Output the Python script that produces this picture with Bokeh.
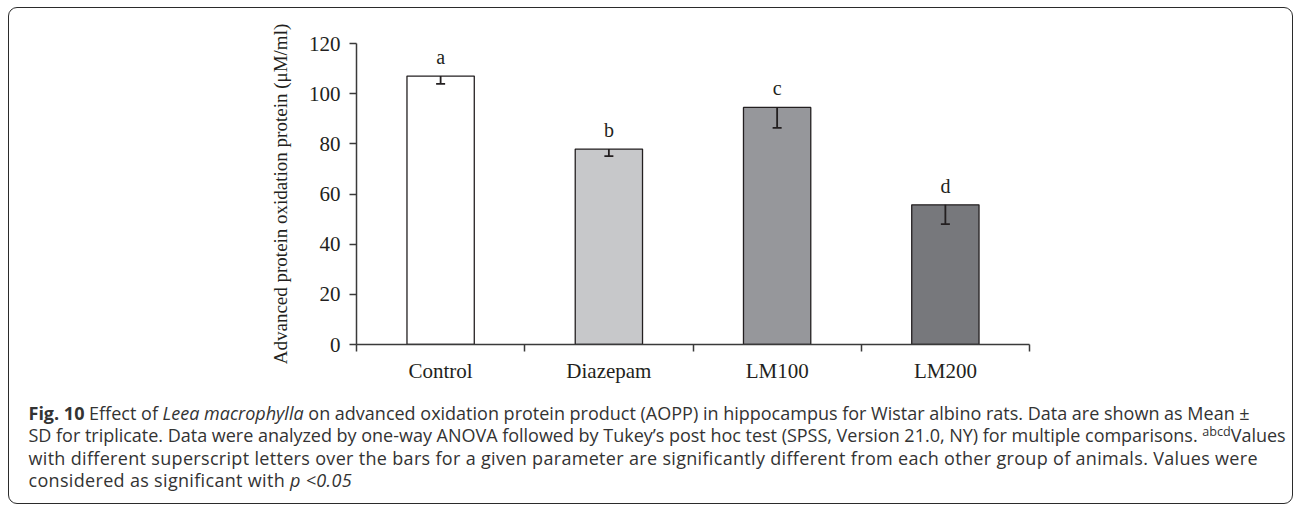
from bokeh.plotting import figure
from bokeh.models import (Range1d, FixedTicker, LinearAxis, Whisker, TeeHead,
                          ColumnDataSource, Div)
from bokeh.layouts import column
from bokeh.embed import file_html
from bokeh.resources import INLINE
from bokeh.core.properties import value

categories = ["Control", "Diazepam", "LM100", "LM200"]
means = [107.0, 77.9, 94.5, 55.7]
sds = [3.1, 2.8, 8.1, 7.7]
letters = ["a", "b", "c", "d"]
bar_colors = ["#ffffff", "#c7c8ca", "#96979b", "#77787c"]
y_ticks = [0, 20, 40, 60, 80, 100, 120]
y_label = "Advanced protein oxidation protein (\u03bcM/ml)"

INK = "#231f20"
SERIF = "Liberation Serif"

xs = [i + 0.5 for i in range(len(categories))]
lower = [m - s for m, s in zip(means, sds)]
src = ColumnDataSource(dict(x=xs, top=means, lower=lower, letter=letters, color=bar_colors))

p = figure(width=1282, height=386,
           x_range=Range1d(0, len(categories)), y_range=Range1d(0, y_ticks[-1]),
           output_backend="svg", toolbar_location=None,
           x_axis_location=None, y_axis_location=None,
           min_border_left=347, min_border_right=262, min_border_top=35, min_border_bottom=50)
p.outline_line_color = None
p.background_fill_color = "white"
p.border_fill_color = None
for g in p.grid:
    g.visible = False

yaxis = LinearAxis(ticker=FixedTicker(ticks=y_ticks, minor_ticks=[]),
                   axis_label=y_label,
                   axis_label_text_font=SERIF, axis_label_text_font_size="19px",
                   axis_label_text_font_style="normal", axis_label_text_color=INK,
                   axis_label_standoff=15,
                   major_label_text_font=SERIF, major_label_text_font_size="21px",
                   major_label_text_color=INK, major_label_standoff=9,
                   major_tick_out=7, major_tick_in=0, minor_tick_out=0, minor_tick_in=0,
                   axis_line_color="#3a3a3a", axis_line_width=1.5,
                   major_tick_line_color="#3a3a3a", major_tick_line_width=1.5)
p.add_layout(yaxis, "left")

xaxis = LinearAxis(ticker=FixedTicker(ticks=xs, minor_ticks=list(range(len(categories) + 1))),
                   major_label_overrides={x: c for x, c in zip(xs, categories)},
                   major_label_text_font=SERIF, major_label_text_font_size="21px",
                   major_label_text_color=INK, major_label_standoff=7,
                   major_tick_out=0, major_tick_in=0, minor_tick_out=7, minor_tick_in=0,
                   axis_line_color="#3a3a3a", axis_line_width=1.5,
                   minor_tick_line_color="#3a3a3a", minor_tick_line_width=1.5)
p.add_layout(xaxis, "below")

p.vbar(x="x", top="top", bottom=0, width=0.4, source=src,
       fill_color="color", line_color=INK, line_width=1.3)

p.add_layout(Whisker(source=src, base="x", upper="top", lower="lower", dimension="height",
                     line_color=INK, line_width=1.8, upper_head=None,
                     lower_head=TeeHead(size=9, line_color=INK, line_width=1.8),
                     level="annotation"))

p.text(x="x", y="top", text="letter", source=src,
       text_font=value(SERIF), text_font_size="20px", text_color=INK,
       text_align="center", text_baseline="alphabetic", y_offset=-19)

caption_html = (
    '<div style="font-family:\'Open Sans\'; font-size:18px; line-height:22.3px; '
    'color:#333333; white-space:nowrap; padding:3px 0 0 14.5px;">'
    '<span><b>Fig. 10</b> Effect of <i>Leea macrophylla</i> on advanced oxidation protein product (AOPP) '
    'in hippocampus for Wistar albino rats. Data are shown as Mean \u00b1</span><br>'
    '<span style="letter-spacing:-0.015px;">SD for triplicate. Data were analyzed by one-way ANOVA followed by Tukey\u2019s post hoc test '
    '(SPSS, Version 21.0, NY) for multiple comparisons. '
    '<sup style="font-size:0.7em; line-height:0; vertical-align:0.45em;">abcd</sup>Values</span><br>'
    '<span style="letter-spacing:0.32px;">with different superscript letters over the bars for a given parameter are significantly '
    'different from each other group of animals. Values were</span><br>'
    '<span style="letter-spacing:0.32px;">considered as significant with <i>p &lt;0.05</i></span>'
    '</div>'
)
cap = Div(text=caption_html, width=1282, height=108)

layout = column(p, cap, width=1285, height=497,
                styles={"border": "1.5px solid #2b2b2b", "border-radius": "9px",
                        "box-sizing": "border-box", "background-color": "white",
                        "margin-left": "8px", "margin-top": "7px"})

open("out.html", "w").write(file_html(layout, INLINE))
